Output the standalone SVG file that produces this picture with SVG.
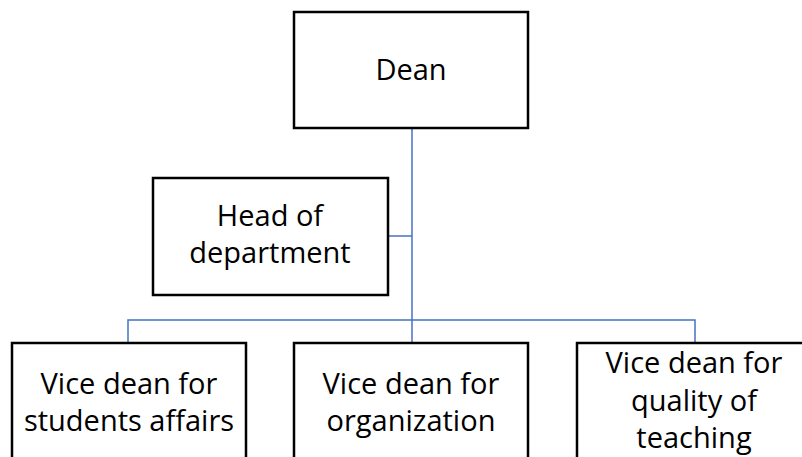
<svg xmlns="http://www.w3.org/2000/svg" width="802" height="457" viewBox="0 0 802 457">
<style>
.box{fill:#ffffff;stroke:#000000;stroke-width:2.5}
.lbl{font-family:"Open Sans","Noto Sans",sans-serif;font-size:29px;fill:#000000;text-anchor:middle}
.con{fill:none;stroke:#4472c4;stroke-width:1.5}
</style>
<rect width="802" height="457" fill="#ffffff"/>
<g id="connectors">
<path class="con" d="M412,128 V343"/>
<path class="con" d="M388,236 H412"/>
<path class="con" d="M128,343 V320 H695 V343"/>
</g>
<g id="dean">
<rect class="box" x="294" y="12" width="234" height="116"/>
<text class="lbl" x="411" y="80">Dean</text>
</g>
<g id="head">
<rect class="box" x="153" y="178" width="235" height="117"/>
<text class="lbl" x="270" y="226">Head of</text>
<text class="lbl" x="270" y="263">department</text>
</g>
<g id="vd_students">
<rect class="box" x="12" y="343" width="234" height="130"/>
<text class="lbl" x="129" y="394">Vice dean for</text>
<text class="lbl" x="129" y="431">students affairs</text>
</g>
<g id="vd_org">
<rect class="box" x="294" y="343" width="234" height="130"/>
<text class="lbl" x="411" y="394">Vice dean for</text>
<text class="lbl" x="411" y="431">organization</text>
</g>
<g id="vd_quality">
<rect class="box" x="577" y="343" width="234" height="130"/>
<text class="lbl" x="694" y="373">Vice dean for</text>
<text class="lbl" x="694" y="411">quality of</text>
<text class="lbl" x="694" y="448">teaching</text>
</g>
</svg>
